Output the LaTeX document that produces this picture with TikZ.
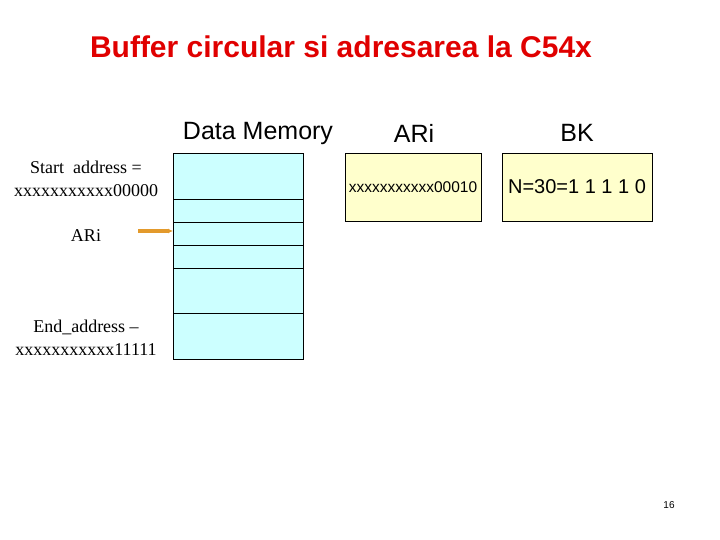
\documentclass[tikz,border=0pt]{standalone}
\usepackage{fontspec}
\setmainfont{Liberation Sans}
\newfontfamily\timesfont{Liberation Serif}
\usetikzlibrary{positioning,arrows.meta}
\definecolor{titlered}{HTML}{E00000}
\definecolor{memcyan}{HTML}{CCFFFF}
\definecolor{regyellow}{HTML}{FFFFCC}
\definecolor{arroworange}{HTML}{E39A2C}
\tikzset{
  memcell/.style={draw, fill=memcyan, minimum width=130pt, inner sep=0pt, outer sep=0pt},
  regbox/.style={draw, fill=regyellow, minimum height=68pt, inner sep=0pt, outer sep=0pt},
  header/.style={font=\fontsize{25}{29}\selectfont},
  addrlabel/.style={font=\timesfont\fontsize{18}{23}\selectfont, align=center}
}
\begin{document}
\begin{tikzpicture}[x=1pt, y=-1pt]
\useasboundingbox (0,0) rectangle (720,540);
\node[font=\bfseries\fontsize{30}{34}\selectfont, text=titlered] (title) at (341,47) {Buffer circular si adresarea la C54x};
\node[header] (memhead) at (258,133) {Data Memory};
\node[header] (arihead) at (414,133) {ARi};
\node[header] (bkhead) at (577,133) {BK};
\node[memcell, minimum height=46pt, anchor=north west] (cell1) at (173,153) {};
\node[memcell, minimum height=23pt, below=0pt of cell1] (cell2) {};
\node[memcell, minimum height=23pt, below=0pt of cell2] (cell3) {};
\node[memcell, minimum height=23pt, below=0pt of cell3] (cell4) {};
\node[memcell, minimum height=45pt, below=0pt of cell4] (cell5) {};
\node[memcell, minimum height=46pt, below=0pt of cell5] (cell6) {};
\node[regbox, minimum width=136pt, anchor=north west, font=\fontsize{15.5}{18}\selectfont] (aribox) at (345,153) {xxxxxxxxxxx00010};
\node[regbox, minimum width=150pt, anchor=north west, font=\fontsize{20}{24}\selectfont] (bkbox) at (502,153) {N=30=1 1 1 1 0};
\node[addrlabel] (startaddr) at (86,179) {Start\ \ address =\\xxxxxxxxxxx00000};
\node[addrlabel] (arilabel) at (86,236) {ARi};
\node[addrlabel] (endaddr) at (86,338) {End\_address \textendash\\xxxxxxxxxxx11111};
\coordinate (arrowstart) at (138,231);
\draw[arroworange, line width=3pt, -{Latex[length=5pt, width=5pt]}] (arrowstart) -- (arrowstart -| cell3.west);
\node[font=\fontsize{10}{12}\selectfont] (pagenum) at (669,505) {16};
\end{tikzpicture}
\end{document}
